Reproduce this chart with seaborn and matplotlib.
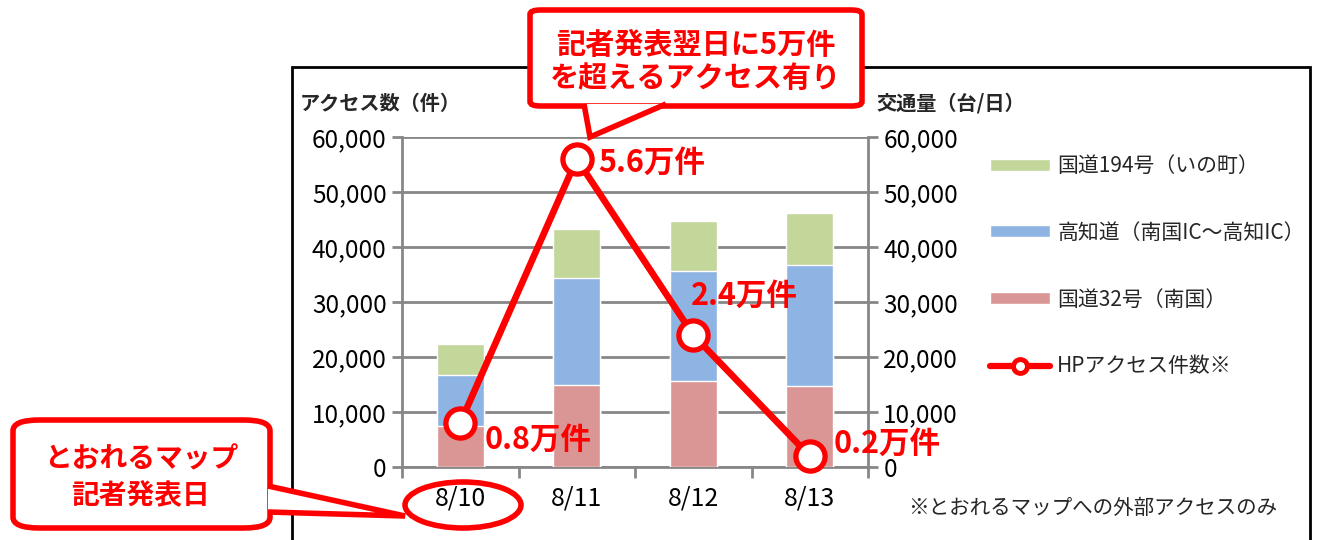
import numpy as np
import pandas as pd
import matplotlib.pyplot as plt
import seaborn as sns
from matplotlib.patches import Patch, FancyBboxPatch, Polygon, Ellipse, Rectangle
from matplotlib.lines import Line2D
from matplotlib.ticker import FuncFormatter, FixedLocator

# データ
dates = ['8/10', '8/11', '8/12', '8/13']
route32 = [7400, 14900, 15700, 14800]          # 国道32号（南国）
kochi_exp = [9300, 19500, 19900, 22000]        # 高知道（南国IC～高知IC）
route194 = [5600, 8900, 9200, 9300]            # 国道194号（いの町）
access = [8000, 56000, 24000, 2000]            # HPアクセス件数
access_labels = ['0.8万件', '5.6万件', '2.4万件', '0.2万件']

series_names = ['国道194号（いの町）', '高知道（南国IC～高知IC）', '国道32号（南国）', 'HPアクセス件数※']

c_green = '#C4D79B'
c_blue = '#8EB4E3'
c_red = '#D99694'
c_line = '#FF0000'
c_grid = '#878787'

df = pd.DataFrame({'date': dates, 'r32': route32, 'exp': kochi_exp, 'r194': route194})
df['lvl2'] = df['r32'] + df['exp']
df['lvl3'] = df['lvl2'] + df['r194']

sns.set_theme(style='white')
plt.rcParams['font.family'] = ['Noto Sans CJK JP', 'DejaVu Sans']

W, H = 1319, 540
fig = plt.figure(figsize=(W / 100, H / 100), dpi=100)


def fx(x):
    return x / W


def fy(y):
    return 1 - y / H


ax = fig.add_axes([fx(402), fy(467), fx(868) - fx(402), fy(137) - fy(467)])

# 積み上げ棒グラフ（上から順に重ねる）
sns.barplot(data=df, x='date', y='lvl3', color=c_green, width=0.4, saturation=1, ax=ax, zorder=3)
sns.barplot(data=df, x='date', y='lvl2', color=c_blue, width=0.4, saturation=1, ax=ax, zorder=3)
sns.barplot(data=df, x='date', y='r32', color=c_red, width=0.4, saturation=1, ax=ax, zorder=3)

# アクセス件数の折れ線
xpos = np.arange(len(dates))
ax.plot(xpos, access, color=c_line, lw=4.8, marker='o', markersize=21,
        markerfacecolor='white', markeredgecolor=c_line, markeredgewidth=3.8, zorder=5,
        clip_on=False)

offsets = [(24, -17), (21, -4), (-2, 39), (24, 12)]
for i, (lab, off) in enumerate(zip(access_labels, offsets)):
    ax.annotate(lab, (xpos[i], access[i]), xytext=off, textcoords='offset pixels',
                ha='left', va='center', color=c_line, fontsize=22, fontweight='bold', zorder=6)

ax.set_xlim(-0.5, 3.5)
ax.set_ylim(0, 60000)
ax.set_yticks(range(0, 60001, 10000))
fmt = FuncFormatter(lambda v, p: f'{int(v):,}')
ax.yaxis.set_major_formatter(fmt)
ax.set_xlabel('')
ax.set_ylabel('')
ax.grid(axis='y', color=c_grid, lw=2, zorder=0)
ax.grid(axis='x', visible=False)
ax.set_axisbelow(True)
for s in ['left', 'right', 'bottom']:
    ax.spines[s].set_color(c_grid)
    ax.spines[s].set_linewidth(2)
ax.spines['top'].set_visible(False)

ax.xaxis.set_minor_locator(FixedLocator([-0.5, 0.5, 1.5, 2.5, 3.5]))
ax.tick_params(axis='x', which='major', length=0, pad=13, labelsize=18, labelcolor='black')
ax.tick_params(axis='x', which='minor', length=8, width=2, color=c_grid, direction='out', bottom=True)
ax.tick_params(axis='y', length=7, width=2, color=c_grid, direction='out', left=True,
               labelsize=17.5, labelcolor='black', pad=4)

ax2 = ax.twinx()
ax2.set_ylim(0, 60000)
ax2.set_yticks(range(0, 60001, 10000))
ax2.yaxis.set_major_formatter(fmt)
ax2.tick_params(axis='y', length=7, width=2, color=c_grid, direction='out', right=True,
                labelsize=17.5, labelcolor='black', pad=4)
for s in ax2.spines.values():
    s.set_visible(False)
ax2.grid(False)

# 軸タイトル
fig.text(fx(300), fy(103), 'アクセス数（件）', ha='left', va='center', fontsize=14.5, fontweight='bold')
fig.text(fx(876), fy(103), '交通量（台/日）', ha='left', va='center', fontsize=14.5, fontweight='bold')

# 凡例
handles = [Patch(facecolor=c_green), Patch(facecolor=c_blue), Patch(facecolor=c_red),
           Line2D([0], [0], color=c_line, lw=4.5, marker='o', markersize=10,
                  markerfacecolor='white', markeredgecolor=c_line, markeredgewidth=3.5)]
fig.legend(handles, series_names, loc='upper left', bbox_to_anchor=(fx(990), fy(155)),
           frameon=False, fontsize=15, labelspacing=2.15, handlelength=2.9, handleheight=0.5,
           handletextpad=0.33, borderpad=0, borderaxespad=0)

fig.text(fx(908), fy(508), '※とおれるマップへの外部アクセスのみ', ha='left', va='center', fontsize=14.8)

# グラフ枠
fig.patches.append(Rectangle((fx(292), fy(560)), fx(1310) - fx(292), fy(67) - fy(560),
                             transform=fig.transFigure, fill=False, ec='black', lw=2, zorder=1))

# 吹き出し（上）
fig.patches.append(FancyBboxPatch((fx(530), fy(106)), fx(862) - fx(530), fy(10) - fy(106),
                                  boxstyle='round,pad=0,rounding_size=0.008',
                                  transform=fig.transFigure, fc='white', ec=c_line, lw=4, zorder=10))
fig.patches.append(Polygon([(fx(584), fy(104)), (fx(590), fy(137)), (fx(666), fy(104))],
                           closed=False, transform=fig.transFigure, fc='white', ec=c_line,
                           lw=4, zorder=11, joinstyle='miter'))
fig.text(fx(696), fy(45), '記者発表翌日に5万件', ha='center', va='center', fontsize=21,
         fontweight='bold', color=c_line, zorder=12)
fig.text(fx(696), fy(78), 'を超えるアクセス有り', ha='center', va='center', fontsize=21,
         fontweight='bold', color=c_line, zorder=12)

# 吹き出し（左下）とマーク
fig.patches.append(Ellipse((fx(463), fy(505)), fx(116), 46 / H, transform=fig.transFigure,
                           fill=False, ec=c_line, lw=4, zorder=10))
fig.patches.append(FancyBboxPatch((fx(13), fy(528)), fx(270) - fx(13), fy(420) - fy(528),
                                  boxstyle='round,pad=0,rounding_size=0.02',
                                  transform=fig.transFigure, fc='white', ec=c_line, lw=4, zorder=10))
fig.patches.append(Polygon([(fx(268), fy(486)), (fx(405), fy(516)), (fx(268), fy(512))],
                           closed=False, transform=fig.transFigure, fc='white', ec=c_line,
                           lw=4, zorder=11, joinstyle='miter'))
fig.text(fx(141), fy(459), 'とおれるマップ', ha='center', va='center', fontsize=20,
         fontweight='bold', color=c_line, zorder=12)
fig.text(fx(141), fy(496), '記者発表日', ha='center', va='center', fontsize=20,
         fontweight='bold', color=c_line, zorder=12)

fig.savefig('out.png', dpi=100, facecolor='white')
